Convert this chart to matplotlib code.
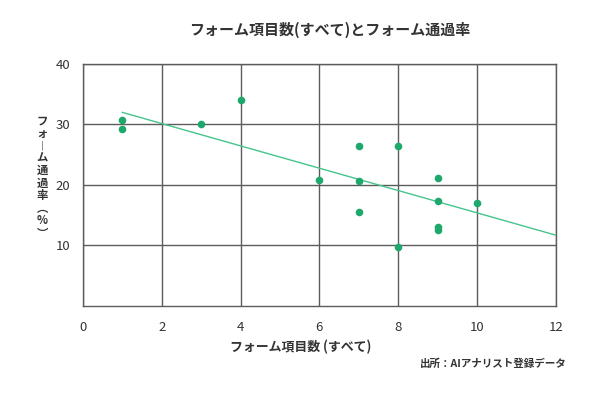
import matplotlib
matplotlib.use("Agg")
import matplotlib.pyplot as plt

plt.rcParams['font.family'] = ['Noto Sans CJK JP', 'DejaVu Sans']

# form field count vs. form pass-through rate
fields = [1, 1, 3, 4, 6, 7, 7, 7, 8, 8, 9, 9, 9, 9, 10]
rates = [30.8, 29.2, 30.0, 34.1, 20.8, 26.4, 20.7, 15.6, 26.4, 9.7,
         21.1, 17.4, 13.1, 12.5, 17.0]
trend_x = [1, 12]
trend_y = [32.0, 11.7]

xticks = [0, 2, 4, 6, 8, 10, 12]
yticks = [10, 20, 30, 40]

dot_color = '#1fa86b'
line_color = '#45c48c'
grid_color = '#5c5c5c'

fig = plt.figure(figsize=(6.01, 3.94), dpi=100)
ax = fig.add_axes([0.138, 0.2234, 0.787, 0.6142])

ax.plot(trend_x, trend_y, color=line_color, lw=1.0, zorder=3)
ax.scatter(fields, rates, s=30, color=dot_color, zorder=4, linewidths=0)

ax.set_xlim(0, 12)
ax.set_ylim(0, 40)
ax.set_xticks(xticks)
ax.set_yticks(yticks)
ax.grid(True, color=grid_color, lw=1.0)
ax.set_axisbelow(True)
for s in ax.spines.values():
    s.set_color(grid_color)
    s.set_linewidth(1.0)
ax.tick_params(length=0, labelsize=9.5, colors='#333333')
ax.tick_params(axis='x', pad=11)
ax.tick_params(axis='y', pad=9)

fig.text(0.548, 0.925, 'フォーム項目数(すべて)とフォーム通過率', ha='center', va='center',
         fontsize=10.8, fontweight='bold', color='#333333')
fig.text(0.5, 0.12, 'フォーム項目数 (すべて)', ha='center', va='center',
         fontsize=9.3, fontweight='bold', color='#333333')
fig.text(0.943, 0.077, '出所：AIアナリスト登録データ', ha='right', va='center',
         fontsize=7.6, fontweight='bold', color='#333333')

# vertical (stacked) y label
ylabel = '\n'.join(['フ', 'ォ', '︱', 'ム', '通', '過', '率', '︵', '%', '︶'])
fig.text(0.07, 0.551, ylabel, ha='center', va='center',
         fontsize=8.2, fontweight='bold', color='#333333', linespacing=0.95)

fig.savefig('out.png', dpi=100)
